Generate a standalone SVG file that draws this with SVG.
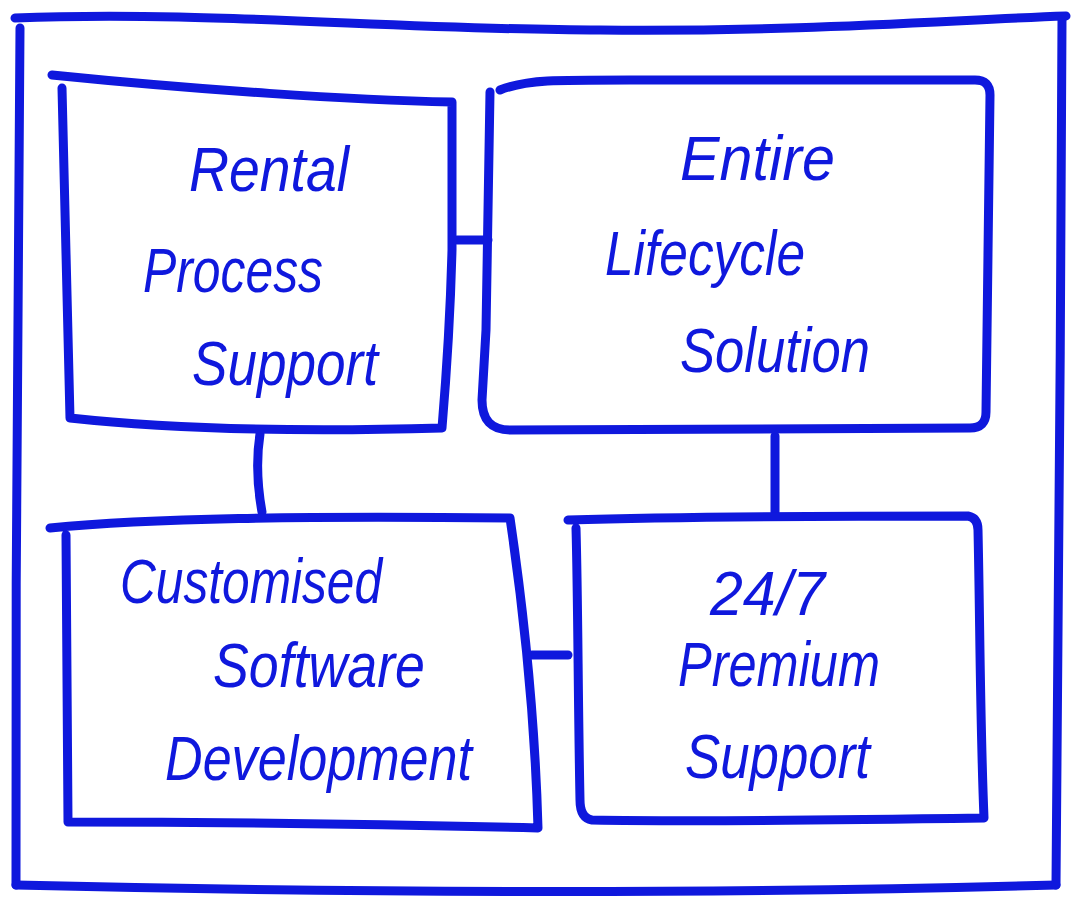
<svg xmlns="http://www.w3.org/2000/svg" width="1074" height="919" viewBox="0 0 1074 919">
<style>
.s{fill:none;stroke:#0f18dd;stroke-width:9;stroke-linecap:round;stroke-linejoin:round}
.t{font-family:"Liberation Sans",Arial,sans-serif;font-style:italic;font-size:63px;fill:#0f18dd}
</style>
<rect width="1074" height="919" fill="#fff"/>
<g id="frame">
<path class="s" d="M15,18 C200,10 400,30 600,30 C800,32 950,20 1066,16"/>
<path class="s" d="M20,28 C18,300 15,600 16,885"/>
<path class="s" d="M16,885 C300,892 700,895 1056,885"/>
<path class="s" d="M1062,20 C1062,300 1056,700 1056,885"/>
</g>
<g id="connectors">
<path class="s" d="M457,240 L488,240"/>
<path class="s" d="M260,434 C256,460 258,490 262,512"/>
<path class="s" d="M775,436 L775,512"/>
<path class="s" d="M532,655 L568,655"/>
</g>
<g id="n1">
<path class="s" d="M52,75 C200,90 350,100 452,102 L452,250 C450,330 446,380 442,428 C300,432 180,430 70,418 L62,88"/>
<text class="t" x="189" y="191" textLength="160" lengthAdjust="spacingAndGlyphs">Rental</text>
<text class="t" x="143" y="292" textLength="180" lengthAdjust="spacingAndGlyphs">Process</text>
<text class="t" x="192" y="385" textLength="186" lengthAdjust="spacingAndGlyphs">Support</text>
</g>
<g id="n2">
<path class="s" d="M500,90 C530,78 560,80 700,80 L975,80 Q990,80 990,95 L986,412 Q986,428 970,428 L510,430 Q482,430 482,400 L486,330 L490,92"/>
<text class="t" x="680" y="180" textLength="155" lengthAdjust="spacingAndGlyphs">Entire</text>
<text class="t" x="605" y="275" textLength="200" lengthAdjust="spacingAndGlyphs">Lifecycle</text>
<text class="t" x="680" y="372" textLength="190" lengthAdjust="spacingAndGlyphs">Solution</text>
</g>
<g id="n3">
<path class="s" d="M50,528 C150,518 300,516 510,518 C525,620 535,720 538,828 C380,824 200,822 68,822 L66,535"/>
<text class="t" x="120" y="603" textLength="262" lengthAdjust="spacingAndGlyphs">Customised</text>
<text class="t" x="213" y="687" textLength="212" lengthAdjust="spacingAndGlyphs">Software</text>
<text class="t" x="165" y="780" textLength="307" lengthAdjust="spacingAndGlyphs">Development</text>
</g>
<g id="n4">
<path class="s" d="M568,520 C700,516 850,516 968,516 Q978,518 978,530 C980,620 980,720 984,818 C850,820 700,822 592,820 Q580,818 580,800 C578,700 578,600 576,528"/>
<text class="t" x="710" y="615" textLength="115" lengthAdjust="spacingAndGlyphs">24/7</text>
<text class="t" x="678" y="686" textLength="202" lengthAdjust="spacingAndGlyphs">Premium</text>
<text class="t" x="685" y="778" textLength="185" lengthAdjust="spacingAndGlyphs">Support</text>
</g>
</svg>
